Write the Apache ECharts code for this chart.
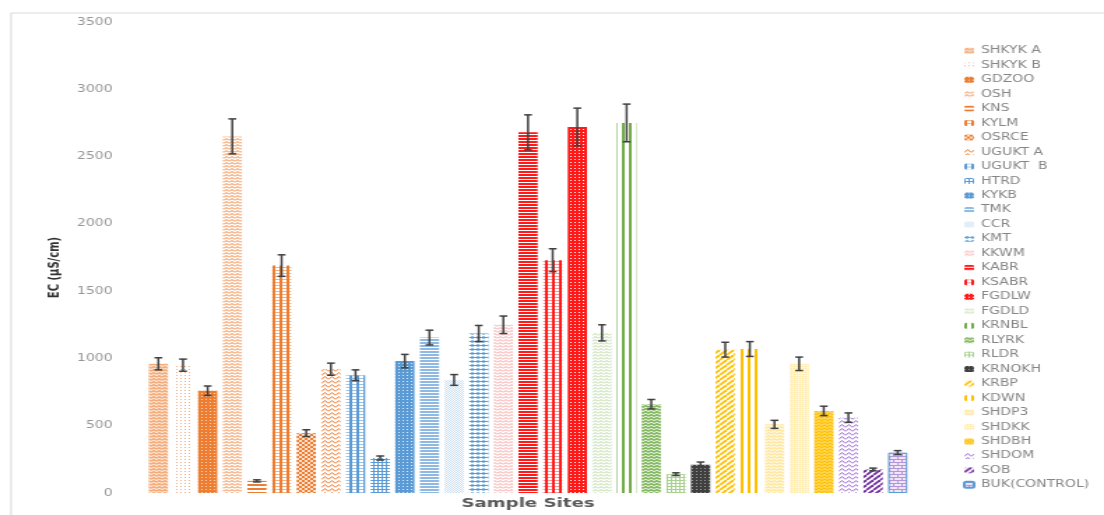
<!DOCTYPE html>
<html>
<head>
<meta charset="utf-8">
<script src="https://cdn.jsdelivr.net/npm/echarts@6/dist/echarts.min.js"></script>
<style>
  html, body { margin: 0; padding: 0; background: #ffffff; }
  #wrap { width: 1104px; height: 515px; overflow: hidden; position: relative; }
  /* chart is laid out in a narrower box and widened horizontally */
  #chart { width: 790px; height: 515px; transform: scaleX(1.39747); transform-origin: 0 0; }
</style>
</head>
<body>
<div id="wrap"><div id="chart"></div></div>
<script>
// Sampling sites (one bar each)
const sites = ['SHKYK A', 'SHKYK B', 'GDZOO', 'OSH', 'KNS', 'KYLM', 'OSRCE', 'UGUKT A',
  'UGUKT  B', 'HTRD', 'KYKB', 'TMK', 'CCR', 'KMT', 'KKWM', 'KABR', 'KSABR', 'FGDLW',
  'FGDLD', 'KRNBL', 'RLYRK', 'RLDR', 'KRNOKH', 'KRBP', 'KDWN', 'SHDP3', 'SHDKK',
  'SHDBH', 'SHDOM', 'SOB', 'BUK(CONTROL)'];

// Electrical conductivity, mean (µS/cm)
const ecMean = [960, 950, 760, 2650, 90, 1690, 445, 920, 875, 260, 980, 1155, 840, 1185,
  1250, 2680, 1730, 2720, 1190, 2750, 660, 140, 210, 1065, 1070, 510, 960, 610, 560, 175, 300];

// Standard deviation used for the error bars (µS/cm)
const ecErr = [45, 45, 35, 130, 8, 80, 25, 45, 40, 15, 50, 55, 40, 60, 65, 130, 85, 140,
  60, 140, 35, 10, 20, 55, 55, 30, 50, 35, 35, 10, 15];

// Y axis tick values
const yTicks = [0, 500, 1000, 1500, 2000, 2500, 3000, 3500];

// ---- fill patterns ----
function pat(w, h, draw) {
  const c = document.createElement('canvas');
  c.width = w; c.height = h;
  const g = c.getContext('2d');
  draw(g, w, h);
  return { image: c, repeat: 'repeat' };
}
function bgFill(g, w, h, bg) { g.fillStyle = bg; g.fillRect(0, 0, w, h); }

const P = {
  hlines: (fg, bg, p, lw) => pat(4, p, (g, w, h) => { bgFill(g, w, h, bg); g.fillStyle = fg; g.fillRect(0, 0, w, lw); }),
  vlines: (fg, bg, p, lw) => pat(p, 4, (g, w, h) => { bgFill(g, w, h, bg); g.fillStyle = fg; g.fillRect(0, 0, lw, h); }),
  plaid: (fg, light, p) => pat(p, 3, (g, w, h) => {
    bgFill(g, w, h, '#ffffff');
    g.fillStyle = light; g.fillRect(0, 0, w, 1);
    g.fillStyle = fg; g.fillRect(0, 0, 2, h);
  }),
  diag: (fg, bg, p, lw) => pat(p, p, (g, w, h) => {
    bgFill(g, w, h, bg);
    g.strokeStyle = fg; g.lineWidth = lw;
    for (let k = -p; k <= p; k += p) { g.beginPath(); g.moveTo(k, p); g.lineTo(k + p, 0); g.stroke(); }
  }),
  zigzag: (fg, bg, w0, h0, lw) => pat(w0, h0, (g, w, h) => {
    bgFill(g, w, h, bg);
    g.strokeStyle = fg; g.lineWidth = lw;
    g.beginPath(); g.moveTo(0, h - lw / 2); g.lineTo(w / 2, lw / 2); g.lineTo(w, h - lw / 2); g.stroke();
  }),
  dots: (fg, bg, p, s) => pat(p, p, (g, w, h) => { bgFill(g, w, h, bg); g.fillStyle = fg; g.fillRect(0, 0, s, s); }),
  checker: (fg, bg, s) => pat(2 * s, 2 * s, (g, w, h) => {
    bgFill(g, w, h, bg); g.fillStyle = fg; g.fillRect(0, 0, s, s); g.fillRect(s, s, s, s);
  }),
  grid: (fg, bg, p) => pat(p, p, (g, w, h) => {
    bgFill(g, w, h, bg); g.fillStyle = fg; g.fillRect(0, 0, w, 1); g.fillRect(0, 0, 1, h);
  }),
  diamonds: (fg, bg) => pat(4, 4, (g, w, h) => {
    bgFill(g, w, h, bg); g.fillStyle = fg;
    g.fillRect(0, 1, w, 1);
    g.beginPath(); g.moveTo(2, 0); g.lineTo(4, 1.5); g.lineTo(2, 3); g.lineTo(0, 1.5); g.closePath(); g.fill();
  }),
  brick: (fg, bg) => pat(6, 6, (g, w, h) => {
    bgFill(g, w, h, bg); g.fillStyle = fg;
    g.fillRect(0, 0, w, 1); g.fillRect(0, 3, w, 1);
    g.fillRect(0, 0, 1, 3); g.fillRect(3, 3, 1, 3);
  })
};

const OR = '#ED7D31', BL = '#5B9BD5', RD = '#FF1A1A', GR = '#70AD47', DG = '#404040', GD = '#FFC000', PU = '#7030A0';

// one fill per site, same order as `sites`
const fills = [
  P.zigzag(OR, '#fbe0cc', 4, 3, 1),
  P.dots('#f4b183', '#ffffff', 3, 1),
  P.dots('#fbd5b8', OR, 3, 1),
  P.zigzag(OR, '#ffffff', 4, 3, 1),
  P.hlines(OR, '#ffffff', 4, 2),
  P.plaid(OR, '#f4b183', 5),
  P.checker(OR, '#fbe0cc', 2),
  P.zigzag(OR, '#ffffff', 5, 4, 1),
  P.plaid(BL, '#9dc3e6', 5),
  P.grid(BL, '#ffffff', 3),
  P.dots('#dbe9f6', BL, 3, 1),
  P.hlines('#8db9e2', '#ffffff', 3, 2),
  P.checker('#c9def2', '#ffffff', 1),
  P.diamonds(BL, '#ffffff'),
  P.zigzag('#f59a9a', '#ffffff', 4, 3, 1),
  P.hlines(RD, '#ffffff', 3, 2),
  P.plaid(RD, '#f59a9a', 5),
  P.dots('#ffffff', RD, 3, 1),
  P.zigzag('#b4d69c', '#ffffff', 4, 3, 1),
  P.vlines(GR, '#ffffff', 5, 2),
  P.zigzag(GR, '#e2efd9', 4, 3, 1.2),
  P.grid('#a9d18e', '#ffffff', 3),
  P.dots('#9a9a9a', DG, 3, 1),
  P.diag(GD, '#ffffff', 5, 1.8),
  P.vlines(GD, '#ffffff', 5, 2),
  P.zigzag('#ffd966', '#fff8e1', 4, 3, 1),
  P.dots('#ffe699', '#fff6dc', 2, 1),
  P.zigzag('#fff2cc', GD, 4, 3, 0.8),
  P.zigzag('#9f6fd0', '#ffffff', 5, 4, 1),
  P.diag(PU, '#ffffff', 5, 1.8),
  P.brick('#b596d9', '#efe6f8')
];
const borders = sites.map((s, i) => (i === sites.length - 1 ? BL : null));

const chart = echarts.init(document.getElementById('chart'), null, { devicePixelRatio: 1 });

const barSeries = sites.map((name, i) => ({
  name: name,
  type: 'bar',
  barWidth: '78%',
  barGap: '-100%',
  itemStyle: {
    color: fills[i],
    borderColor: borders[i] || 'transparent',
    borderWidth: borders[i] ? 1 : 0
  },
  data: sites.map((_, j) => (j === i ? ecMean[i] : '-'))
}));

const errSeries = {
  name: 'sd',
  type: 'custom',
  z: 10,
  encode: { x: 0, y: [1, 2] },
  data: sites.map((_, i) => [i, ecMean[i] - ecErr[i], ecMean[i] + ecErr[i]]),
  renderItem: function (params, api) {
    const lo = api.coord([api.value(0), api.value(1)]);
    const hi = api.coord([api.value(0), api.value(2)]);
    const cw = 2.8;
    const st = { stroke: '#404040', lineWidth: 1.5 };
    return {
      type: 'group',
      children: [
        { type: 'line', shape: { x1: hi[0], y1: hi[1], x2: lo[0], y2: lo[1] }, style: st },
        { type: 'line', shape: { x1: hi[0] - cw, y1: hi[1], x2: hi[0] + cw, y2: hi[1] }, style: st },
        { type: 'line', shape: { x1: lo[0] - cw, y1: lo[1], x2: lo[0] + cw, y2: lo[1] }, style: st }
      ]
    };
  }
};

chart.setOption({
  animation: false,
  backgroundColor: '#ffffff',
  graphic: [{
    type: 'rect',
    shape: { x: 7.9, y: 13, width: 900, height: 700 },
    style: { fill: 'none', stroke: '#d9d9d9', lineWidth: 1 },
    silent: true
  }],
  grid: { left: 104.5, right: 138.8, top: 22, bottom: 18 },
  legend: {
    data: sites,
    orient: 'vertical',
    left: 689,
    top: 43.5,
    padding: 0,
    itemWidth: 7,
    itemHeight: 6,
    itemGap: 0,
    selectedMode: false,
    textStyle: { fontFamily: 'DejaVu Sans', fontSize: 10, color: '#868686', lineHeight: 14.47 }
  },
  xAxis: {
    type: 'category',
    data: sites,
    name: 'Sample Sites',
    nameLocation: 'middle',
    nameGap: 4,
    nameTextStyle: { fontFamily: 'DejaVu Sans', fontWeight: 'bold', fontSize: 13, color: '#595959', verticalAlign: 'top' },
    axisLine: { show: false },
    axisTick: { show: false },
    axisLabel: { show: false },
    splitLine: { show: false }
  },
  yAxis: {
    type: 'value',
    min: yTicks[0],
    max: yTicks[yTicks.length - 1],
    interval: yTicks[1] - yTicks[0],
    name: 'EC (µS/cm)',
    nameLocation: 'middle',
    nameGap: 41,
    nameTextStyle: { fontFamily: 'DejaVu Sans', fontWeight: 'bold', fontSize: 10, color: '#333333', padding: [0, 20, 0, 0] },
    axisLine: { show: false },
    axisTick: { show: false },
    splitLine: { show: false },
    axisLabel: {
      margin: 24, fontFamily: 'DejaVu Sans', fontSize: 10, color: '#969696',
      formatter: v => String(v)
    }
  },
  series: barSeries.concat([errSeries])
});
</script>
</body>
</html>
